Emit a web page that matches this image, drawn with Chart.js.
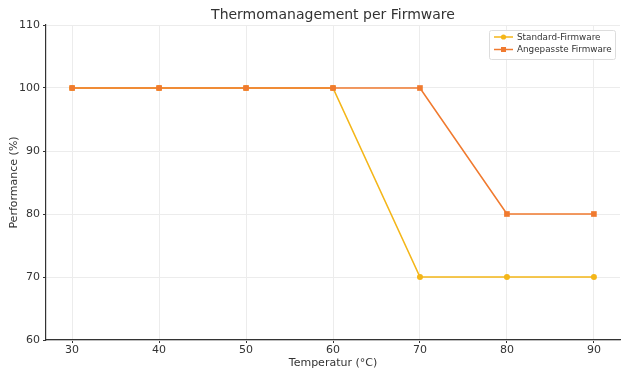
<!DOCTYPE html>
<html><head><meta charset="utf-8">
<script src="https://cdn.jsdelivr.net/npm/chart.js@4/dist/chart.umd.min.js"></script>
<style>html,body{margin:0;padding:0;background:#fff;}canvas{display:block;}</style>
</head><body>
<canvas id="c" width="630" height="378"></canvas>
<script>
const temperatures = [30, 40, 50, 60, 70, 80, 90];
const standardFirmware = [100, 100, 100, 100, 70, 70, 70];
const angepassteFirmware = [100, 100, 100, 100, 100, 80, 80];
const seriesNames = ['Standard-Firmware', 'Angepasste Firmware'];
const chartTitle = 'Thermomanagement per Firmware';
const xTitle = 'Temperatur (°C)';
const yTitle = 'Performance (%)';

const C1 = '#F4B619', C2 = '#F07A2F';
const FONT = "'DejaVu Sans', sans-serif";

const titleAndLegend = {
  id: 'titleAndLegend',
  afterDraw(chart) {
    const ctx = chart.ctx;
    const ca = chart.chartArea;
    ctx.save();
    ctx.fillStyle = '#333';
    ctx.font = '14px ' + FONT;
    ctx.textAlign = 'center';
    ctx.textBaseline = 'middle';
    ctx.fillText(chartTitle, (ca.left + ca.right) / 2, 15);
    ctx.textAlign = 'left';

    const ds = chart.data.datasets;
    const x0 = 489, y0 = 30, w = 126, h = 29;
    ctx.fillStyle = 'rgba(255,255,255,0.85)';
    ctx.strokeStyle = '#dddddd';
    ctx.lineWidth = 1;
    ctx.beginPath();
    ctx.roundRect(x0 + 0.5, y0 + 0.5, w, h, 2);
    ctx.fill(); ctx.stroke();
    ctx.font = '8.8px ' + FONT;
    ds.forEach((d, i) => {
      const y = y0 + 7 + i * 12.5;
      ctx.strokeStyle = d.borderColor;
      ctx.lineWidth = 1.5;
      ctx.beginPath(); ctx.moveTo(x0 + 5, y); ctx.lineTo(x0 + 24, y); ctx.stroke();
      ctx.fillStyle = d.backgroundColor;
      if (d.pointStyle === 'rect') { ctx.fillRect(x0 + 12, y - 2.5, 5, 5); }
      else { ctx.beginPath(); ctx.arc(x0 + 14.5, y, 2.6, 0, Math.PI * 2); ctx.fill(); }
      ctx.fillStyle = '#333';
      ctx.fillText(d.label, x0 + 28, y + 0.5);
    });
    ctx.restore();
  }
};

new Chart(document.getElementById('c'), {
  type: 'line',
  data: {
    datasets: [
      { label: seriesNames[0], data: temperatures.map((t, i) => ({x: t, y: standardFirmware[i]})),
        borderColor: C1, backgroundColor: C1, borderWidth: 1.6, pointStyle: 'circle',
        pointRadius: 3, pointBorderWidth: 0, order: 2, tension: 0 },
      { label: seriesNames[1], data: temperatures.map((t, i) => ({x: t, y: angepassteFirmware[i]})),
        borderColor: C2, backgroundColor: C2, borderWidth: 1.6, pointStyle: 'rect',
        pointRadius: 4, pointBorderWidth: 0, order: 1, tension: 0 }
    ]
  },
  options: {
    responsive: false, animation: false, devicePixelRatio: 1,
    layout: { padding: { left: 8, right: 10, top: 25, bottom: 8 } },
    plugins: {
      legend: { display: false },
      tooltip: { enabled: false },
      title: { display: false }
    },
    scales: {
      x: {
        type: 'linear', min: 27, max: 93,
        afterBuildTicks(s) { s.ticks = temperatures.map(v => ({value: v})); },
        afterFit(s) { s.height = 30; },
        ticks: { color: '#333', font: { family: FONT, size: 11 }, padding: 1, maxRotation: 0 },
        grid: { color: '#ececec', tickColor: '#333', tickLength: 3, lineWidth: 1 },
        border: { color: '#333', width: 1.2 },
        title: { display: true, text: xTitle, color: '#333', font: { family: FONT, size: 11 }, padding: { top: 0, bottom: 0 } }
      },
      y: {
        min: 60, max: 110,
        afterFit(s) { s.width = 38; },
        ticks: { stepSize: 10, color: '#333', font: { family: FONT, size: 11 }, padding: 3 },
        grid: { color: '#ececec', tickColor: '#333', tickLength: 3, lineWidth: 1 },
        border: { color: '#333', width: 1.2 },
        title: { display: true, text: yTitle, color: '#333', font: { family: FONT, size: 11 }, padding: { top: 0, bottom: 0 } }
      }
    }
  },
  plugins: [titleAndLegend]
});
</script>
</body></html>
